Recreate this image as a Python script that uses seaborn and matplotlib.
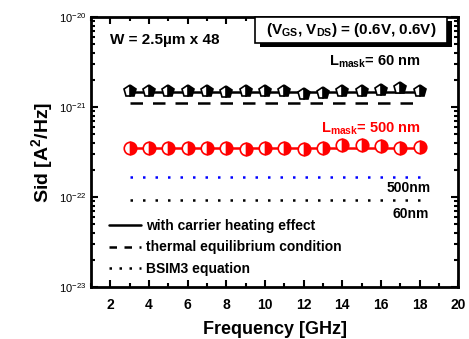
import numpy as np
import pandas as pd
import matplotlib.pyplot as plt
import seaborn as sns
from matplotlib.lines import Line2D
from matplotlib.patches import Rectangle

# measured data (frequency in GHz, Sid in A^2/Hz)
freq = [3, 4, 5, 6, 7, 8, 9, 10, 11, 12, 13, 14, 15, 16, 17, 18]
sid_60nm = [1.50e-21, 1.52e-21, 1.52e-21, 1.52e-21, 1.50e-21, 1.45e-21, 1.52e-21, 1.52e-21,
            1.50e-21, 1.40e-21, 1.42e-21, 1.52e-21, 1.52e-21, 1.55e-21, 1.62e-21, 1.52e-21]
sid_500nm = [3.50e-22, 3.50e-22, 3.50e-22, 3.50e-22, 3.50e-22, 3.50e-22, 3.45e-22, 3.50e-22,
             3.50e-22, 3.45e-22, 3.50e-22, 3.75e-22, 3.80e-22, 3.65e-22, 3.55e-22, 3.60e-22]

# model lines
model_x = [3, 18]
heat_60nm = [1.48e-21, 1.48e-21]
heat_500nm = [3.55e-22, 3.55e-22]
thermal_60nm = [1.12e-21, 1.12e-21]
bsim_500nm = [1.67e-22, 1.67e-22]
bsim_60nm = [9.3e-23, 9.3e-23]

x_ticks = [2, 4, 6, 8, 10, 12, 14, 16, 18, 20]

sns.set_style("ticks")
plt.rcParams['font.family'] = ['Liberation Sans', 'DejaVu Sans']
plt.rcParams['mathtext.fontset'] = 'custom'
plt.rcParams['mathtext.rm'] = 'Liberation Sans'
plt.rcParams['mathtext.bf'] = 'Liberation Sans:bold'
for k in ["text.color", "axes.labelcolor", "xtick.color", "ytick.color", "axes.edgecolor"]:
    plt.rcParams[k] = "black"

df60 = pd.DataFrame({"f": freq, "sid": sid_60nm})
df500 = pd.DataFrame({"f": freq, "sid": sid_500nm})

fig = plt.figure(figsize=(4.69, 3.39), dpi=100)
ax = fig.add_axes([0.194, 0.153, 0.783, 0.797])

# model curves
sns.lineplot(x=model_x, y=heat_60nm, color="black", lw=1.8, ax=ax)
sns.lineplot(x=model_x, y=heat_500nm, color="red", lw=1.8, ax=ax)
ax.plot(model_x, thermal_60nm, color="black", lw=1.8, dashes=(5, 4))
ax.plot(model_x, bsim_500nm, color="blue", lw=1.8, dashes=(1, 4))
ax.plot(model_x, bsim_60nm, color="black", lw=1.8, dashes=(1, 4))

# measured points
ax.plot(df60["f"], df60["sid"], ls="none", marker="p", ms=9, color="black",
        fillstyle="right", markerfacecoloralt="white", mew=1.2)
ax.plot(df500["f"], df500["sid"], ls="none", marker="o", ms=9, color="red",
        fillstyle="right", markerfacecoloralt="white", mew=1.2)

ax.set_yscale("log")
ax.set_xlim(1, 20)
ax.set_ylim(1e-23, 1e-20)
ax.set_xticks(x_ticks)
ax.set_xticks(np.arange(1, 20, 1), minor=True)
ax.set_yticks([1e-23, 1e-22, 1e-21, 1e-20])
ax.set_yticklabels([r"$10^{-23}$", r"$10^{-22}$", r"$10^{-21}$", r"$10^{-20}$"], fontsize=8)
ax.tick_params(which="both", direction="in", top=True, right=True, width=1.5)
ax.tick_params(which="major", length=5)
ax.tick_params(which="minor", length=3)
ax.tick_params(axis="x", labelsize=10, pad=8)
for lab in ax.get_xticklabels():
    lab.set_fontweight("bold")
for s in ax.spines.values():
    s.set_linewidth(2)

ax.set_xlabel("Frequency [GHz]", fontsize=13, fontweight="bold", labelpad=6)
ax.set_ylabel(r"Sid [A$^{\mathbf{2}}$/Hz]", fontsize=14, fontweight="bold", labelpad=2)

ax.text(2.0, 5.0e-21, "W = 2.5µm x 48", fontsize=11, fontweight="bold")

# condition box with shadow
ax.add_patch(Rectangle((0.461, 0.889), 0.523, 0.096, transform=ax.transAxes,
                       fc="black", ec="none", zorder=4, clip_on=False))
ax.add_patch(Rectangle((0.447, 0.904), 0.523, 0.096, transform=ax.transAxes,
                       fc="white", ec="black", lw=1.2, zorder=5, clip_on=False))
ax.text(0.708, 0.951, r"(V$_{\mathbf{GS}}$, V$_{\mathbf{DS}}$) = (0.6V, 0.6V)",
        transform=ax.transAxes, ha="center", va="center", fontsize=11,
        fontweight="bold", zorder=6)

ax.text(13.3, 2.9e-21, r"L$_{\mathbf{mask}}$= 60 nm", fontsize=10.5, fontweight="bold")
ax.text(12.9, 5.2e-22, r"L$_{\mathbf{mask}}$= 500 nm", fontsize=10.5, fontweight="bold", color="red")
ax.text(16.3, 1.15e-22, "500nm", fontsize=10, fontweight="bold")
ax.text(16.6, 5.9e-23, "60nm", fontsize=10, fontweight="bold")

# legend
handles = [Line2D([], [], color="black", lw=1.8),
           Line2D([], [], color="black", lw=1.8, dashes=(3, 3)),
           Line2D([], [], color="black", lw=1.8, dashes=(1, 3))]
labels = ["with carrier heating effect", "thermal equilibrium condition", "BSIM3 equation"]
ax.legend(handles, labels, loc="lower left", frameon=False,
          handlelength=2.3, handletextpad=0.3, labelspacing=0.55,
          borderaxespad=0.4, bbox_to_anchor=(0.02, 0.0),
          prop={"weight": "bold", "size": 10})

fig.savefig("out.png", dpi=100)
